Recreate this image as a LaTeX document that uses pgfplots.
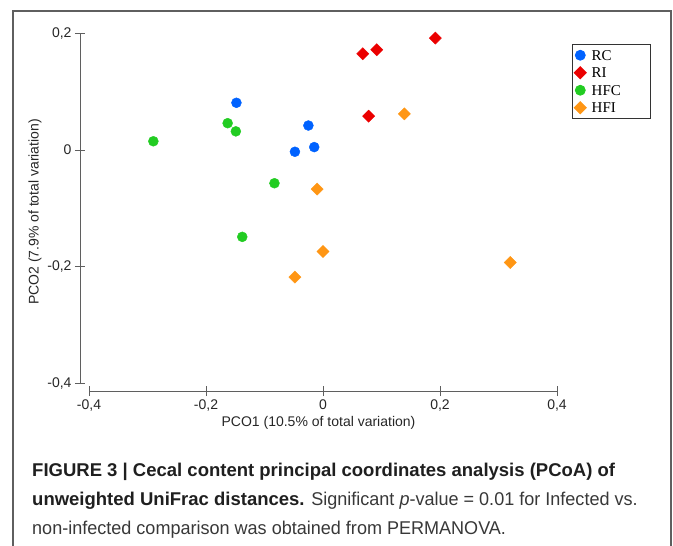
\documentclass[border=0pt]{standalone}
\usepackage{pgfplots}
\pgfplotsset{compat=1.18}
\usepackage{fontspec}
\setmainfont{Liberation Sans}
\newfontfamily\legfont{Liberation Serif}
\newfontfamily\capfont[FakeStretch=0.975]{Liberation Sans}

\definecolor{rcblue}{RGB}{0,98,255}
\definecolor{rired}{RGB}{235,0,0}
\definecolor{hfcgreen}{RGB}{34,204,34}
\definecolor{hfiorange}{RGB}{255,150,20}
\definecolor{axgray}{RGB}{95,95,95}

\begin{document}
\begin{tikzpicture}[x=1pt,y=1pt]
\useasboundingbox (0,0) rectangle (673,-546);
% outer frame of the figure panel (open at the bottom)
\draw[axgray, line width=1.4pt] (13,-546) -- (13,-11) -- (671,-11) -- (671,-546);

\begin{axis}[
    at={(80pt,-391pt)}, anchor=south west,
    scale only axis, width=477pt, height=358pt,
    xmin=-0.4154, xmax=0.4, ymin=-0.4134, ymax=0.2007,
    axis x line*=bottom, axis y line*=left,
    x axis line style={draw=none}, y axis line style={draw=none},
    xtick={-0.4,-0.2,0,0.2,0.4},
    xticklabels={{-0,4},{-0,2},0,{0,2},{0,4}},
    ytick={-0.4,-0.2,0,0.2},
    yticklabels={{-0,4},{-0,2},0,{0,2}},
    tick align=center, major tick length=10pt,
    tick style={axgray, line width=0.9pt},
    ticklabel style={font=\fontsize{14}{16}\selectfont, text=black!85},
    label style={font=\fontsize{14}{16}\selectfont, text=black!85},
    xlabel={PCO1 (10.5\% of total variation)},
    ylabel={PCO2 (7.9\% of total variation)},
    xlabel style={at={(axis description cs:0.5,0)}, anchor=center, yshift=-32pt},
    ylabel style={at={(axis description cs:-0.0943,0.5)}, anchor=center},
    clip=false,
    legend style={at={(1.031,0.969)}, anchor=north west, draw=black!80,
        line width=0.8pt, inner xsep=2pt, inner ysep=3pt, row sep=2pt,
        font=\legfont\fontsize{15}{17}\selectfont,
        nodes={inner sep=2pt, text height=10.5pt, text depth=1pt}},
    legend cell align=left,
    legend image code/.code={\draw[mark repeat=2,mark phase=2,#1]
        plot coordinates {(0pt,0pt) (5pt,0pt) (10pt,0pt)};
        \path (0pt,0pt) (14pt,0pt);},
]
% axis lines as in the reference (detached)
\draw[axgray, line width=1pt] (axis cs:-0.4154,-0.4) -- (axis cs:-0.4154,0.2);
\draw[axgray, line width=1pt] (axis cs:-0.4,-0.4134) -- (axis cs:0.4,-0.4134);

\addplot[only marks, mark=*, mark size=5pt, color=rcblue] coordinates {
    (-0.148,0.081) (-0.025,0.042) (-0.048,-0.003) (-0.015,0.005)
};
\addlegendentry{\makebox[55pt][l]{RC}}
\addplot[only marks, mark=square*, mark size=4.3pt, mark options={rotate=45}, color=rired] coordinates {
    (0.068,0.165) (0.092,0.172) (0.192,0.192) (0.078,0.058)
};
\addlegendentry{\makebox[55pt][l]{RI}}
\addplot[only marks, mark=*, mark size=5pt, color=hfcgreen] coordinates {
    (-0.290,0.015) (-0.163,0.046) (-0.149,0.032) (-0.083,-0.057) (-0.138,-0.149)
};
\addlegendentry{\makebox[55pt][l]{HFC}}
\addplot[only marks, mark=square*, mark size=4.3pt, mark options={rotate=45}, color=hfiorange] coordinates {
    (-0.010,-0.067) (0.000,-0.174) (-0.048,-0.218) (0.139,0.062) (0.320,-0.193)
};
\addlegendentry{\makebox[55pt][l]{HFI}}
\end{axis}

% caption
\node[anchor=base west, inner sep=0, text=black!88,
      font=\bfseries\fontsize{18.5}{22}\selectfont] at (32,-476)
  {FIGURE 3 | Cecal content principal coordinates analysis (PCoA) of};
\node[anchor=base west, inner sep=0, text=black!78,
      font=\capfont\fontsize{18.5}{22}\selectfont] at (32,-505)
  {{\rmfamily\bfseries\color{black!88}unweighted UniFrac distances.} Significant \textit{p}-value = 0.01 for Infected vs.};
\node[anchor=base west, inner sep=0, text=black!78,
      font=\capfont\fontsize{18.5}{22}\selectfont] at (32,-534)
  {non-infected comparison was obtained from PERMANOVA.};
\end{tikzpicture}
\end{document}
